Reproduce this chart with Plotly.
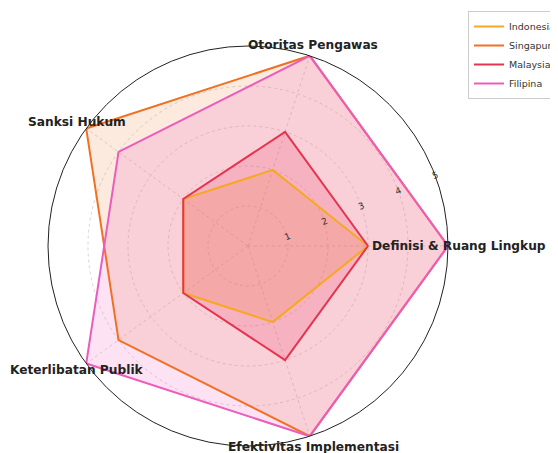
import math
import plotly.graph_objects as go

categories = ["Definisi & Ruang Lingkup", "Otoritas Pengawas", "Sanksi Hukum",
              "Keterlibatan Publik", "Efektivitas Implementasi"]
countries = ["Indonesia", "Singapura", "Malaysia", "Filipina"]
indonesia = [3, 2, 2, 2, 2]
singapura = [5, 5, 5, 4, 5]
malaysia = [3, 3, 2, 2, 3]
filipina = [5, 5, 4, 5, 5]
radial_ticks = [1, 2, 3, 4, 5]

series = [indonesia, singapura, malaysia, filipina]
line_colors = ["#F7A823", "#F07024", "#E4344F", "#EC5CBD"]
fill_colors = ["rgba(247,168,35,0.2)", "rgba(240,112,36,0.15)",
               "rgba(228,52,79,0.2)", "rgba(236,92,189,0.18)"]

theta_deg = [i * 360 / len(categories) for i in range(len(categories))]

W, H = 558, 453
cx, cy, R = 240, 238, 200  # circle center/radius in page pixels
dom_x = [(cx - R) / W, (cx + R) / W]
dom_y = [(H - cy - R) / H, (H - cy + R) / H]

fig = go.Figure()
for name, vals, lc, fc in zip(countries, series, line_colors, fill_colors):
    fig.add_trace(go.Scatterpolar(
        r=vals + vals[:1], theta=theta_deg + theta_deg[:1], mode="lines",
        fill="toself", fillcolor=fc, line=dict(width=0, color=lc),
        showlegend=False, hoverinfo="skip"))
for name, vals, lc in zip(countries, series, line_colors):
    fig.add_trace(go.Scatterpolar(
        r=vals + vals[:1], theta=theta_deg + theta_deg[:1], mode="lines",
        name=name, line=dict(width=2, color=lc)))

label_r = 5.28 / 5 * R
for cat, th in zip(categories, theta_deg):
    a = math.radians(th)
    px = cx + label_r * math.cos(a)
    py = cy - label_r * math.sin(a)
    fig.add_annotation(x=px / W, y=1 - py / H, xref="paper", yref="paper",
                       text="<b>" + cat + "</b>", showarrow=False,
                       xanchor="center", yanchor="middle",
                       font=dict(family="DejaVu Sans", size=12.2, color="#222222"))

fig.update_layout(
    width=W, height=H,
    margin=dict(l=0, r=0, t=0, b=0, autoexpand=False),
    paper_bgcolor="white",
    font=dict(family="DejaVu Sans", color="#333333"),
    polar=dict(
        domain=dict(x=dom_x, y=dom_y),
        bgcolor="white",
        radialaxis=dict(range=[0, 5], tickvals=radial_ticks, angle=22.5, tickangle=0,
                        showline=False, ticks="", gridcolor="#d8d8d8", griddash="dot",
                        tickfont=dict(size=9, color="#333333")),
        angularaxis=dict(rotation=0, direction="counterclockwise", showticklabels=False,
                         ticks="", tickvals=theta_deg, showline=True, linecolor="#222222",
                         linewidth=1, gridcolor="#d8d8d8", griddash="dot", thetaunit="degrees"),
    ),
    legend=dict(x=460 / W, y=1 - 3 / H, xanchor="left", yanchor="top",
                bordercolor="#cccccc", borderwidth=1, bgcolor="white",
                font=dict(size=9.5, color="#333333"), tracegroupgap=0,
                itemwidth=30),
)

fig.write_html("out.html")
